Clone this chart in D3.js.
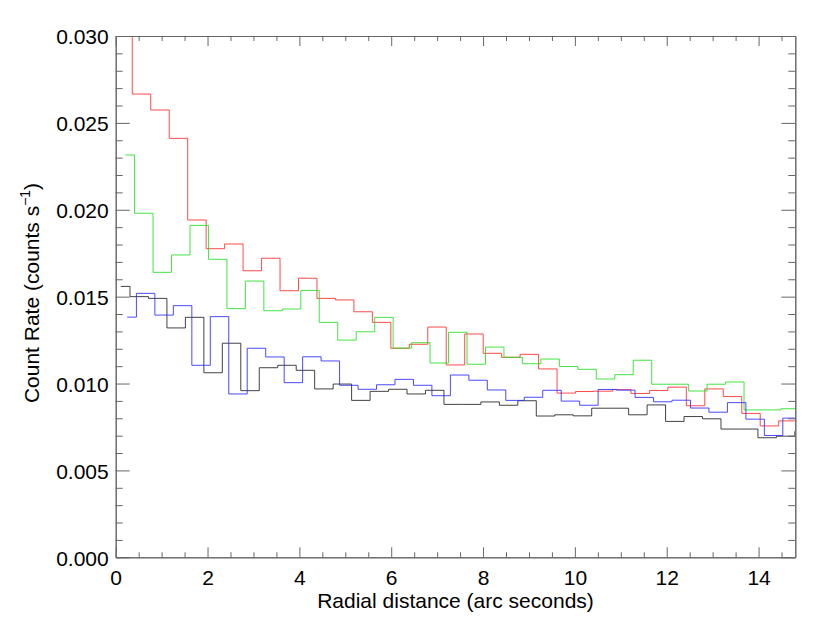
<!DOCTYPE html>
<html>
<head>
<meta charset="utf-8">
<script src="https://cdn.jsdelivr.net/npm/d3@7"></script>
<style>
  body { margin: 0; background: #fff; }
  svg { display: block; font-family: "Liberation Sans", Arial, sans-serif; }
</style>
</head>
<body>
<div id="chart"></div>
<script>
// radial bin grid (arc seconds), shared by all profiles
const radius = [0.000, 0.402, 0.804, 1.207, 1.609, 2.011, 2.413, 2.815, 3.218, 3.620,
  4.022, 4.424, 4.826, 5.229, 5.631, 6.033, 6.435, 6.837, 7.240, 7.642,
  8.044, 8.446, 8.848, 9.251, 9.653, 10.055, 10.457, 10.859, 11.262, 11.664,
  12.066, 12.468, 12.870, 13.273, 13.675, 14.077, 14.479, 14.881];

// first bin centre of each profile
const shift = { black: 0.11, red: 0.16, green: 0.21, blue: 0.25 };

// count rates (counts s^-1)
const blackRate = [0.01559, 0.0150, 0.0149, 0.0132, 0.01381, 0.01062, 0.01232, 0.00959, 0.01091, 0.01105,
  0.01076, 0.00969, 0.00997, 0.00903, 0.00955, 0.00967, 0.0094, 0.00961, 0.0088, 0.0088,
  0.00894, 0.00875, 0.00901, 0.00813, 0.0082, 0.00814, 0.00858, 0.00858, 0.0082, 0.00877,
  0.00782, 0.0081, 0.00797, 0.00738, 0.00738, 0.00688, 0.00697, 0.00724];
const redRate = [0.034, 0.02666, 0.02574, 0.02411, 0.01941, 0.01776, 0.01803, 0.01649, 0.01721, 0.01534,
  0.01606, 0.0149, 0.01481, 0.01413, 0.01352, 0.01203, 0.01226, 0.01325, 0.01107, 0.01285,
  0.01174, 0.01151, 0.01168, 0.01084, 0.00945, 0.00954, 0.00956, 0.00965, 0.00943, 0.0096,
  0.00979, 0.00872, 0.00969, 0.00925, 0.00828, 0.00756, 0.00785, 0.00785];
const greenRate = [0.02315, 0.0198, 0.0164, 0.0174, 0.0191, 0.01715, 0.01431, 0.0159, 0.01419, 0.01429,
  0.01536, 0.01352, 0.0125, 0.01298, 0.01381, 0.01204, 0.01235, 0.01118, 0.01295, 0.01111,
  0.0121, 0.01151, 0.01114, 0.01141, 0.01098, 0.01082, 0.01026, 0.01051, 0.01134, 0.00996,
  0.00996, 0.00957, 0.00996, 0.01009, 0.00848, 0.00848, 0.00855, 0.00855];
const blueRate = [0.01382, 0.01519, 0.01394, 0.01448, 0.01105, 0.01385, 0.0094, 0.01203, 0.01153, 0.01005,
  0.01154, 0.0113, 0.0099, 0.00967, 0.00993, 0.01024, 0.0099, 0.0093, 0.01049, 0.01019,
  0.00963, 0.00903, 0.00921, 0.00961, 0.00899, 0.00875, 0.00966, 0.00962, 0.0092, 0.00895,
  0.00904, 0.00859, 0.00835, 0.0089, 0.00795, 0.00701, 0.00801, 0.00801];

const xMajor = [0, 2, 4, 6, 8, 10, 12, 14];
const yMajor = [0, 0.005, 0.010, 0.015, 0.020, 0.025, 0.030];

const width = 830, height = 631;
const margin = {top: 36, right: 34.7, bottom: 73.7, left: 115.7};

const svg = d3.select("#chart").append("svg")
  .attr("width", width)
  .attr("height", height);

const x = d3.scaleLinear().domain([0, 14.8]).range([margin.left, width - margin.right]);
const y = d3.scaleLinear().domain([0, 0.030]).range([height - margin.bottom, margin.top]);

const xMinor = d3.range(0, 14.8, 0.5).filter(v => v % 2 !== 0);
const yMinor = d3.range(0, 0.0305, 0.001).filter(v => Math.round(v * 1000) % 5 !== 0);

svg.append("clipPath").attr("id", "plot")
  .append("rect")
  .attr("x", margin.left).attr("y", margin.top)
  .attr("width", x.range()[1] - x.range()[0])
  .attr("height", y.range()[0] - y.range()[1]);

// profiles, drawn as histograms
const line = d3.line()
  .x(d => x(d.r))
  .y(d => y(d.v))
  .curve(d3.curveStep);

const series = [
  {name: "black", color: "#222222", values: blackRate},
  {name: "red", color: "#ff2a2a", values: redRate},
  {name: "green", color: "#22e022", values: greenRate},
  {name: "blue", color: "#2a2aff", values: blueRate}
];

svg.append("g").attr("clip-path", "url(#plot)")
  .selectAll("path")
  .data(series)
  .enter()
  .append("path")
  .attr("fill", "none")
  .attr("stroke", d => d.color)
  .attr("stroke-width", 1)
  .attr("stroke-opacity", 0.85)
  .attr("d", d => line(d.values.map((v, i) => ({r: radius[i] + shift[d.name], v: v}))));

// axes: ticks point inwards on all four sides
const axisColor = "#666";
const fmt = d3.format(".3f");

function styleAxis(g) {
  g.selectAll("path, line").attr("stroke", axisColor);
  g.selectAll("text").attr("fill", "#000").attr("font-size", 21).attr("font-family", null);
}

svg.append("g")
  .attr("transform", "translate(0," + y(0) + ")")
  .call(d3.axisBottom(x).tickValues(xMajor).tickSizeInner(-10).tickSizeOuter(0).tickPadding(13).tickFormat(d3.format("d")))
  .call(styleAxis);
svg.append("g")
  .attr("transform", "translate(0," + y(0) + ")")
  .call(d3.axisBottom(x).tickValues(xMinor).tickSizeInner(-5).tickSizeOuter(0).tickFormat(""))
  .call(styleAxis);
svg.append("g")
  .attr("transform", "translate(0," + y(0.030) + ")")
  .call(d3.axisTop(x).tickValues(xMajor).tickSizeInner(-10).tickSizeOuter(0).tickFormat(""))
  .call(styleAxis);
svg.append("g")
  .attr("transform", "translate(0," + y(0.030) + ")")
  .call(d3.axisTop(x).tickValues(xMinor).tickSizeInner(-5).tickSizeOuter(0).tickFormat(""))
  .call(styleAxis);

svg.append("g")
  .attr("transform", "translate(" + x(0) + ",0)")
  .call(d3.axisLeft(y).tickValues(yMajor).tickSizeInner(-14).tickSizeOuter(0).tickPadding(7).tickFormat(fmt))
  .call(styleAxis)
  .selectAll("text").attr("dy", "0.37em");
svg.append("g")
  .attr("transform", "translate(" + x(0) + ",0)")
  .call(d3.axisLeft(y).tickValues(yMinor).tickSizeInner(-7).tickSizeOuter(0).tickFormat(""))
  .call(styleAxis);
svg.append("g")
  .attr("transform", "translate(" + x(14.8) + ",0)")
  .call(d3.axisRight(y).tickValues(yMajor).tickSizeInner(-14).tickSizeOuter(0).tickFormat(""))
  .call(styleAxis);
svg.append("g")
  .attr("transform", "translate(" + x(14.8) + ",0)")
  .call(d3.axisRight(y).tickValues(yMinor).tickSizeInner(-7).tickSizeOuter(0).tickFormat(""))
  .call(styleAxis);

// titles
svg.append("text")
  .attr("x", (x.range()[0] + x.range()[1]) / 2)
  .attr("y", 608)
  .attr("text-anchor", "middle")
  .attr("font-size", 21)
  .text("Radial distance (arc seconds)");

const ylab = svg.append("text")
  .attr("transform", "translate(39,293) rotate(-90)")
  .attr("text-anchor", "middle")
  .attr("font-size", 21);
ylab.append("tspan").text("Count Rate (counts s");
ylab.append("tspan").attr("font-size", 14).attr("dy", -9).text("\u22121");
ylab.append("tspan").attr("dy", 9).text(")");
</script>
</body>
</html>
